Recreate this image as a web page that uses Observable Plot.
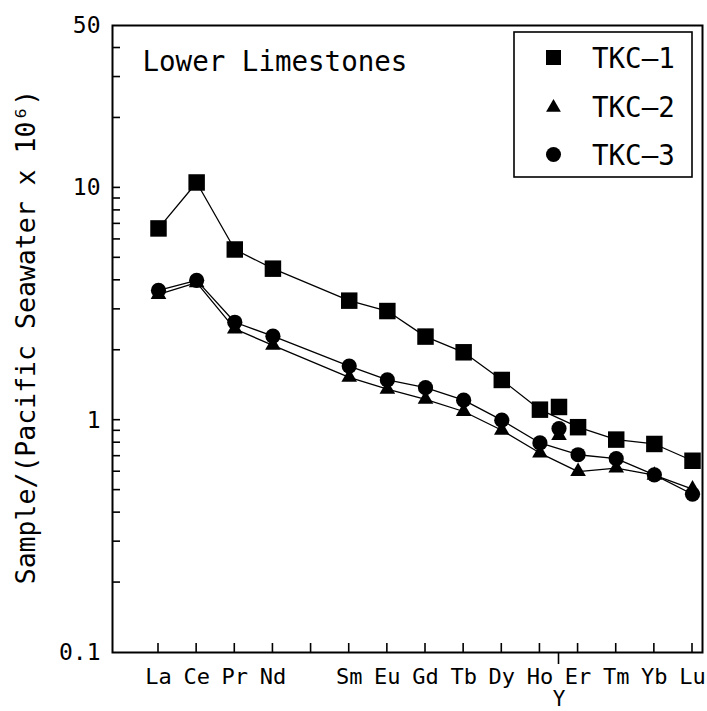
<!DOCTYPE html>
<html><head><meta charset="utf-8">
<script src="https://cdn.jsdelivr.net/npm/d3@7"></script>
<script src="https://cdn.jsdelivr.net/npm/@observablehq/plot@0.6"></script>
<style>
body{margin:0;background:#fff}
#chart{position:relative;width:707px;height:711px}
</style></head><body><div id="chart"></div>
<script>
// ---- data ----
const elements  = ["La","Ce","Pr","Nd","Sm","Eu","Gd","Tb","Dy","Ho","Y","Er","Tm","Yb","Lu"];
const positions = [1,2,3,4,6,7,8,9,10,11,11.5,12,13,14,15];
const tkc1 = [6.69,10.55,5.43,4.49,3.27,2.95,2.29,1.96,1.49,1.11,1.14,0.933,0.825,0.79,0.669];
const tkc2 = [3.48,3.91,2.47,2.10,1.53,1.36,1.23,1.09,0.905,0.722,0.859,0.601,0.622,0.58,0.505];
const tkc3 = [3.62,4.00,2.64,2.30,1.71,1.49,1.38,1.22,1.00,0.798,0.92,0.71,0.683,0.582,0.48];
const seriesNames = ["TKC-1","TKC-2","TKC-3"];
const xTickPositions = [1,2,3,4,5,6,7,8,9,10,11,12,13,14,15];
const xLabelPositions = [1,2,3,4,6,7,8,9,10,11,12,13,14,15];
const xLabels = ["La","Ce","Pr","Nd","Sm","Eu","Gd","Tb","Dy","Ho","Er","Tm","Yb","Lu"];
const yPosLabel = [11.5];
const yPosText = ["Y"];
const yLabelTicks = [0.1,1,10,50];
const yInnerTicks = [0.2,0.3,0.4,0.5,0.6,0.7,0.8,0.9,1,2,3,4,5,6,7,8,9,10,20,30,40];
const titleText = "Lower Limestones";
const yTitle = "Sample/(Pacific Seawater x 10\u2076)";

const values = [tkc1, tkc2, tkc3];
const rows = [];
seriesNames.forEach((s, si) => elements.forEach((e, i) =>
  rows.push({series: s, element: e, pos: positions[i], value: values[si][i]})));
const lineRows = rows.filter(d => d.element !== "Y");
const bySeries = s => rows.filter(d => d.series === s);

const FONT = "DejaVu Sans Mono";
const xDomain = [-0.206, 15.262];
const yDomain = [0.1, 50];

const chart = Plot.plot({
  width: 707, height: 711,
  marginLeft: 112, marginRight: 5, marginTop: 25, marginBottom: 59,
  style: {fontFamily: FONT, background: "white", color: "black", overflow: "visible"},
  x: {type: "linear", domain: xDomain},
  y: {type: "log", domain: yDomain},
  marks: [
    Plot.frame({stroke: "black", strokeWidth: 2}),
    Plot.axisY(yLabelTicks, {anchor: "left", tickSize: 0, tickPadding: 12, fontSize: 23,
      tickFormat: d => String(d), label: null}),
    Plot.axisX(xLabelPositions, {anchor: "bottom", tickSize: 0, tickPadding: 16, fontSize: 22,
      tickFormat: d => xLabels[xLabelPositions.indexOf(d)], label: null}),
    Plot.axisX(yPosLabel, {anchor: "bottom", tickSize: 0, tickPadding: 39, fontSize: 21,
      tickFormat: d => yPosText[yPosLabel.indexOf(d)], label: null}),
    // lines
    Plot.line(lineRows, {x: "pos", y: "value", z: "series", stroke: "black", strokeWidth: 1.3}),
    // markers
    Plot.dot(bySeries("TKC-1"), {x: "pos", y: "value", symbol: "square", r: 9.3, fill: "black", stroke: "none"}),
    Plot.dot(bySeries("TKC-2"), {x: "pos", y: "value", symbol: "triangle", r: 5.8, fill: "black", stroke: "none"}),
    Plot.dot(bySeries("TKC-3"), {x: "pos", y: "value", symbol: "circle", r: 7.6, fill: "black", stroke: "none"}),
    // titles
    Plot.text([titleText], {text: d => d, frameAnchor: "top-left", dx: 30, dy: 26, lineAnchor: "top",
      textAnchor: "start", fontSize: 27.5, fill: "black"}),
    Plot.text([yTitle], {text: d => d, frameAnchor: "left", dx: -86, dy: -2, rotate: -90, lineAnchor: "middle",
      textAnchor: "middle", fontSize: 26.5, fill: "black"})
  ]
});
document.getElementById("chart").appendChild(chart);

const svg = d3.select(chart);
const xs = chart.scale("x"), ys = chart.scale("y");
const left = xs.apply(xDomain[0]), bottom = ys.apply(yDomain[0]);

// ---- inward ticks, placed through Plot's scales ----
const tg = svg.append("g").attr("stroke", "black").attr("stroke-width", 1.6);
yInnerTicks.forEach(v => {
  const y = ys.apply(v);
  tg.append("line").attr("x1", left).attr("x2", left + 8).attr("y1", y).attr("y2", y);
});
xTickPositions.forEach(v => {
  const x = xs.apply(v);
  tg.append("line").attr("x1", x).attr("x2", x).attr("y1", bottom).attr("y2", bottom - 9);
});
yPosLabel.forEach(v => {
  const x = xs.apply(v);
  tg.append("line").attr("x1", x).attr("x2", x).attr("y1", bottom).attr("y2", bottom + 12);
});

// ---- legend (inside the plot frame, upper right) ----
const lg = svg.append("g").attr("class", "legend");
lg.append("rect").attr("x", 514).attr("y", 32).attr("width", 178).attr("height", 145)
  .attr("fill", "white").attr("stroke", "black").attr("stroke-width", 1.6);
const legendSymbols = [d3.symbolSquare, d3.symbolTriangle, d3.symbolCircle];
const legendSizes = [225, 95, 177];
seriesNames.forEach((s, i) => {
  const cy = 57.5 + i * 48.5;
  lg.append("path").attr("d", d3.symbol(legendSymbols[i], legendSizes[i])())
    .attr("transform", `translate(553.5,${cy + (i === 1 ? 1.5 : 0)})`).attr("fill", "black");
  lg.append("text").attr("x", 592).attr("y", cy + 10.5).attr("font-family", FONT)
    .attr("text-anchor", "start")
    .attr("font-size", 27.5).attr("fill", "black").text(s.replace("-", "\u2013"));
});
</script>
</body></html>
